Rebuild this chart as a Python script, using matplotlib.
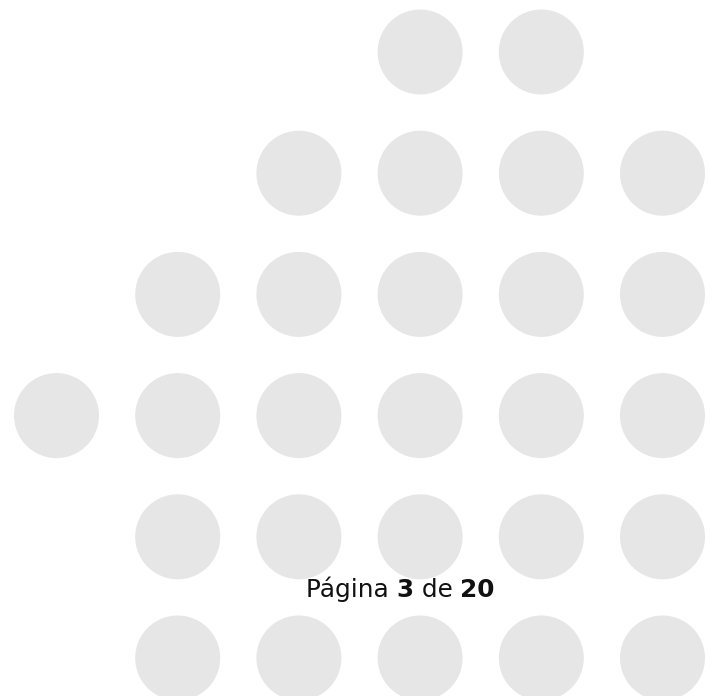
import matplotlib
matplotlib.use("Agg")
import matplotlib.pyplot as plt
from matplotlib.patches import Circle

# Grid of decorative dots: for each row, which columns (0..5) hold a dot
row_columns = [
    [3, 4],
    [2, 3, 4, 5],
    [1, 2, 3, 4, 5],
    [0, 1, 2, 3, 4, 5],
    [1, 2, 3, 4, 5],
    [1, 2, 3, 4, 5],
]
page_label = "Página"
page_current = "3"
page_sep = "de"
page_total = "20"

fig = plt.figure(figsize=(7.10, 6.96), dpi=100)
ax = fig.add_axes([0, 0, 1, 1])
ax.set_xlim(0, 710)
ax.set_ylim(696, 0)
ax.axis("off")

x0, y0, step, r = 56.5, 52, 121.2, 42.5
for ri, cols in enumerate(row_columns):
    for c in cols:
        ax.add_patch(Circle((x0 + c * step, y0 + ri * step), r,
                            facecolor="#e6e6e6", edgecolor="none"))

fam = ["DejaVu Sans"]
fs = 17.8
ybase = 597
rend = fig.canvas.get_renderer()
parts = [(page_label + " ", "normal"), (page_current, "bold"),
         (" " + page_sep + " ", "normal"), (page_total, "bold")]
xpix = ax.transData.transform((306, 0))[0]
for txt, w in parts:
    xd = ax.transData.inverted().transform((xpix, 0))[0]
    t = ax.text(xd, ybase, txt, fontsize=fs, family=fam, weight=w,
                color="#111111", va="baseline", ha="left")
    xpix = t.get_window_extent(rend).x1

fig.savefig("out.png", dpi=100)
